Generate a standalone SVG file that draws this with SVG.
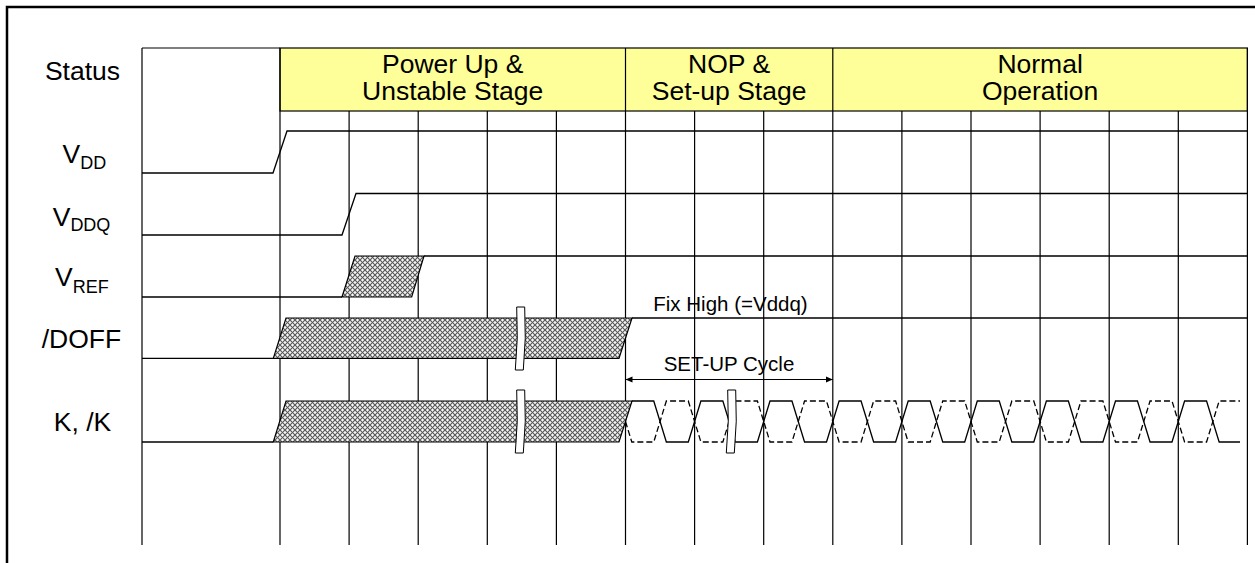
<svg xmlns="http://www.w3.org/2000/svg" width="1255" height="563" viewBox="0 0 1255 563">
<style>
.ln{fill:none;stroke:#000;stroke-width:1.2}
.wave{fill:none;stroke:#000;stroke-width:1.3}
.dash{fill:none;stroke:#000;stroke-width:1.3;stroke-dasharray:6 3}
.hatch{fill:url(#xh);stroke:#000;stroke-width:1.2}
.brk{fill:#fff;stroke:#000;stroke-width:1}
.lbl{font-family:"Liberation Sans",Arial,sans-serif;font-size:26.5px;fill:#000}
.sub{font-size:18px}
.hdr{font-family:"Liberation Sans",Arial,sans-serif;font-size:26.5px;fill:#000;text-anchor:middle}
.sm{font-family:"Liberation Sans",Arial,sans-serif;font-size:20.5px;fill:#000;text-anchor:middle}
</style>
<defs>
<pattern id="xh" width="5" height="5" patternUnits="userSpaceOnUse">
<rect width="5" height="5" fill="#b4b4b4"/>
<path d="M0,0L5,5M5,0L0,5" stroke="#555" stroke-width="0.9"/>
<circle cx="2.5" cy="0" r="0.9" fill="#fff"/><circle cx="2.5" cy="5" r="0.9" fill="#fff"/>
<circle cx="0" cy="2.5" r="0.9" fill="#fff"/><circle cx="5" cy="2.5" r="0.9" fill="#fff"/>
</pattern>
<marker id="ah" markerWidth="8" markerHeight="8" refX="7" refY="4" orient="auto-start-reverse" markerUnits="userSpaceOnUse">
<path d="M0,1L7,4L0,7Z" fill="#000"/>
</marker>
</defs>

<rect x="7" y="7" width="1300" height="600" fill="none" stroke="#000" stroke-width="2.5"/>

<g id="grid">
<rect x="280" y="48" width="967.4" height="63" fill="#ffff99" stroke="#000" stroke-width="1.2"/>
<path class="ln" d="M142,48H280M142,48V545M280,48V545M625.5,48V545M832.8,48V545M1247.4,48V545
M349.1,111V545M418.2,111V545M487.3,111V545M556.4,111V545M694.6,111V545M763.7,111V545
M901.9,111V545M971,111V545M1040.1,111V545M1109.2,111V545M1178.3,111V545"/>
</g>

<g id="header">
<text class="hdr" x="452.7" y="73">Power Up &amp;</text>
<text class="hdr" x="452.7" y="100">Unstable Stage</text>
<text class="hdr" x="729.1" y="73">NOP &amp;</text>
<text class="hdr" x="729.1" y="100">Set-up Stage</text>
<text class="hdr" x="1040.1" y="73">Normal</text>
<text class="hdr" x="1040.1" y="100">Operation</text>
</g>

<g id="labels">
<text class="lbl" x="82.5" y="80" text-anchor="middle">Status</text>
<text class="lbl" x="62.5" y="162.7">V<tspan class="sub" dy="6.6">DD</tspan></text>
<text class="lbl" x="52.7" y="226">V<tspan class="sub" dy="4.7">DDQ</tspan></text>
<text class="lbl" x="55" y="286">V<tspan class="sub" dy="6.7">REF</tspan></text>
<text class="lbl" x="81.5" y="348.3" text-anchor="middle">/DOFF</text>
<text class="lbl" x="82.5" y="430.7" text-anchor="middle">K, /K</text>
</g>

<g id="vdd">
<path class="wave" d="M142,173H273L287,131H1247.4"/>
</g>
<g id="vddq">
<path class="wave" d="M142,235H342L356,193.5H1247.4"/>
</g>
<g id="vref">
<path class="wave" d="M142,297H342M424,256H1247.4"/>
<path class="hatch" d="M355,256H424L411.7,297H342Z"/>
</g>
<g id="doff">
<path class="wave" d="M142,358.3H273.3M632,318H1247.4"/>
<path class="hatch" d="M286,318H632L619,358.3H273.3Z"/>
<path class="brk" d="M516.7,307H524.7Q526.5,338 523.3,370H515.3Q518.5,338 516.7,307Z"/>
<text class="sm" x="730.5" y="311">Fix High (=Vddq)</text>
</g>

<g id="connectors">
<line class="ln" x1="625.5" y1="379.5" x2="832.8" y2="379.5" marker-start="url(#ah)" marker-end="url(#ah)"/>
<text class="sm" x="729" y="371">SET-UP Cycle</text>
</g>

<g id="clk">
<path class="wave" d="M142,442H273.3"/>
<path class="hatch" d="M286,401H632L619,442H273.3Z"/>
<path class="wave" d="M631.8,401H653.75L666.35,442H688.3L700.9,401H722.85L735.45,442H757.4L770,401H791.95L804.55,442H826.5L839.1,401H861.05L873.65,442H895.6L908.2,401H930.15L942.75,442H964.7L977.3,401H999.25L1011.85,442H1033.8L1046.4,401H1068.35L1080.95,442H1102.9L1115.5,401H1137.45L1150.05,442H1172L1184.6,401H1206.55L1219.15,442H1240"/>
<path class="dash" d="M625.5,421.5L631.8,442H653.75L666.35,401H688.3L700.9,442H722.85L735.45,401H757.4L770,442H791.95L804.55,401H826.5L839.1,442H861.05L873.65,401H895.6L908.2,442H930.15L942.75,401H964.7L977.3,442H999.25L1011.85,401H1033.8L1046.4,442H1068.35L1080.95,401H1102.9L1115.5,442H1137.45L1150.05,401H1172L1184.6,442H1206.55L1219.15,401H1240"/>
<path class="brk" d="M516.7,390H524.7Q526.5,421 523.3,453H515.3Q518.5,421 516.7,390Z"/>
<path class="brk" d="M727.7,390H735.7Q737.5,421 734.3,453H726.3Q729.5,421 727.7,390Z"/>
</g>
</svg>
